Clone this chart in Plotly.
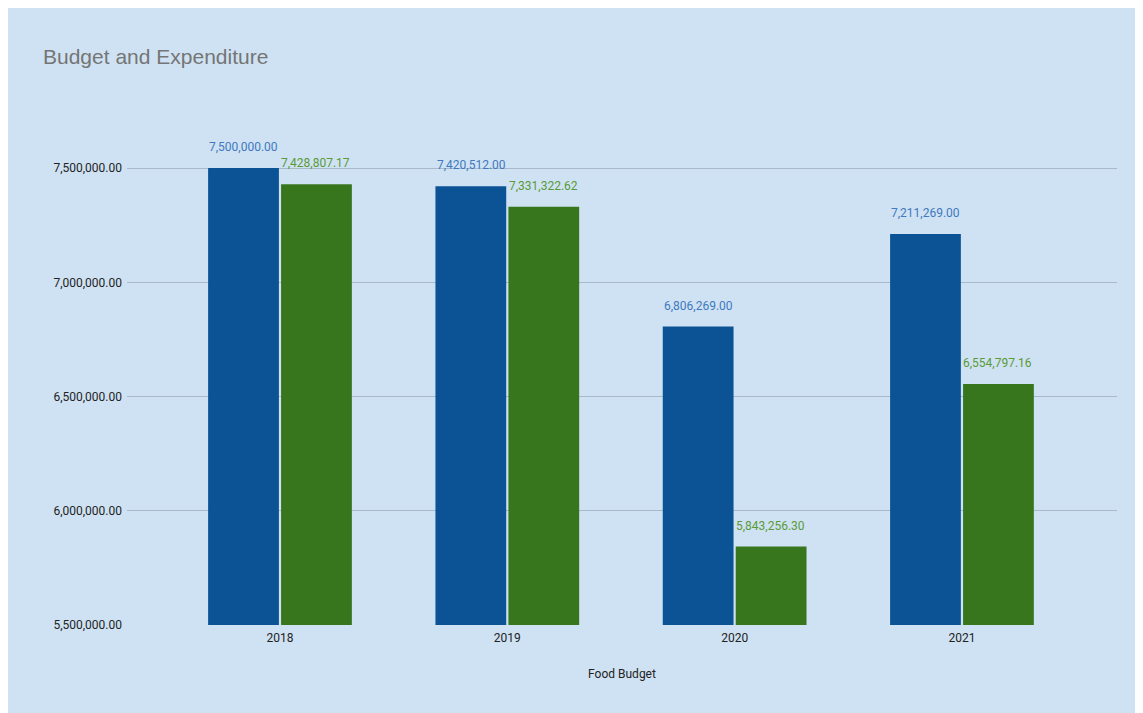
import plotly.graph_objects as go

years = ["2018", "2019", "2020", "2021"]
budget = [7500000.00, 7420512.00, 6806269.00, 7211269.00]
expenditure = [7428807.17, 7331322.62, 5843256.30, 6554797.16]
y_ticks = [5500000, 6000000, 6500000, 7000000, 7500000]
y_tick_text = ["5,500,000.00", "6,000,000.00", "6,500,000.00", "7,000,000.00", "7,500,000.00"]

BLUE = "#0b5394"
GREEN = "#38761d"
BLUE_TXT = "#4079bd"
GREEN_TXT = "#5a9a37"
BG = "#cfe2f3"

W, H = 1143, 713
L, R, T, B = 119, 34, 103, 96

fig = go.Figure()
fig.add_trace(go.Bar(x=years, y=budget, marker=dict(color=BLUE, line=dict(width=0)), name="Budget"))
fig.add_trace(go.Bar(x=years, y=expenditure, marker=dict(color=GREEN, line=dict(width=0)), name="Expenditure"))

annotations = []
for i, v in enumerate(budget):
    annotations.append(dict(x=i, y=v, xref="x", yref="y", text=f"{v:,.2f}", showarrow=False,
                            xshift=-36, yshift=12, yanchor="bottom",
                            font=dict(family="Roboto", size=12, color=BLUE_TXT)))
for i, v in enumerate(expenditure):
    annotations.append(dict(x=i, y=v, xref="x", yref="y", text=f"{v:,.2f}", showarrow=False,
                            xshift=36, yshift=12, yanchor="bottom",
                            font=dict(family="Roboto", size=12, color=GREEN_TXT)))

fig.update_layout(
    width=W, height=H,
    margin=dict(l=L, r=R, t=T, b=B),
    paper_bgcolor=BG, plot_bgcolor=BG,
    showlegend=False,
    barmode="group", bargap=0.358, bargroupgap=0.03,
    title=dict(text="Budget and Expenditure", x=35 / W, xanchor="left", y=1 - 49 / H, yanchor="middle",
               font=dict(family="Liberation Sans", size=21, color="#757575")),
    xaxis=dict(type="category", range=[-0.673, 3.682], showgrid=False, zeroline=False,
               showline=False, ticks="", ticklabelstandoff=4,
               tickfont=dict(family="Roboto", size=12, color="#222222"),
               title=dict(text="Food Budget", standoff=25, font=dict(family="Roboto", size=12, color="#222222"))),
    yaxis=dict(range=[5500000, 7750000], tickvals=y_ticks, ticktext=y_tick_text,
               showgrid=True, gridcolor="#a9b9c8", gridwidth=1, zeroline=False, showline=False,
               ticks="", ticklabelstandoff=4,
               tickfont=dict(family="Roboto", size=12, color="#222222")),
    annotations=annotations,
)

fig.write_html(
    "out.html",
    post_script="document.documentElement.style.overflow='hidden';document.body.style.overflow='hidden';",
)
